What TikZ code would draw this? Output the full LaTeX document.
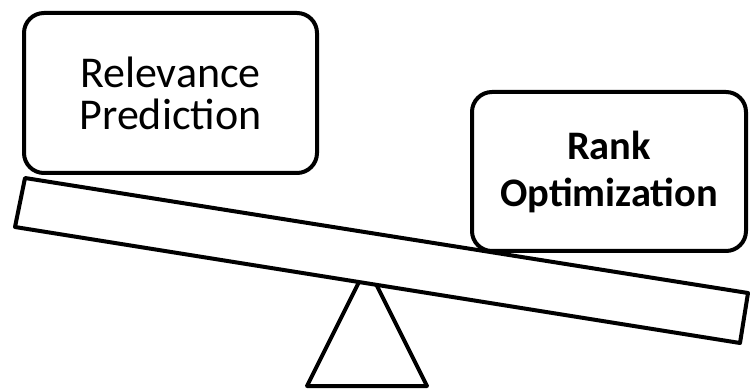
\documentclass[tikz,border=0pt]{standalone}
\usepackage{fontspec}
\setmainfont{Carlito}
\begin{document}
\begin{tikzpicture}[x=1pt,y=-1pt,
  outline/.style={line width=4pt, line join=round},
  card/.style={outline, draw=black, rounded corners=20pt, inner sep=0pt, align=center}]
\useasboundingbox (0,0) rectangle (753,390);

% fulcrum
\coordinate (fl) at (307,386);
\coordinate (fr) at (427,386);
\coordinate (ft) at (367,266);
\draw[outline] (ft) -- (fl) -- (fr) -- cycle;

% plank, drawn over the top of the fulcrum
\coordinate (ptl) at (25,178);
\coordinate (ptr) at (748,293);
\coordinate (pbr) at (740,343);
\coordinate (pbl) at (15,227);
\draw[outline, fill=white] (ptl) -- (ptr) -- (pbr) -- (pbl) -- cycle;

% weights on the plank
\node[card, minimum width=293pt, minimum height=160pt,
      font=\fontsize{44}{42}\selectfont] (rel) at (170.5,93)
  {Relevance\\Prediction};
\node[card, minimum width=274pt, minimum height=159pt,
      font=\fontsize{40.5}{47}\selectfont\bfseries] (rank) at (609,171.5)
  {Rank\\Optimization};
\end{tikzpicture}
\end{document}
